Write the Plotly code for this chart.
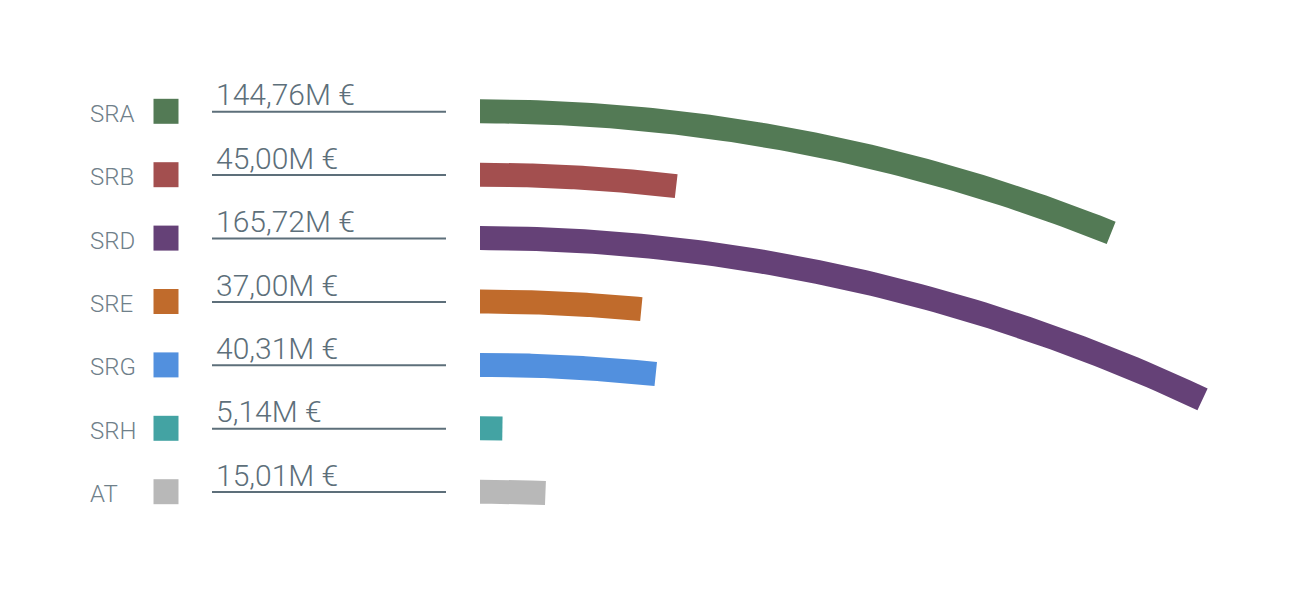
import numpy as np
import plotly.graph_objects as go

# ---- data ----
categories = ["SRA", "SRB", "SRD", "SRE", "SRG", "SRH", "AT"]
values = [144.76, 45.00, 165.72, 37.00, 40.31, 5.14, 15.01]
value_labels = ["144,76M €", "45,00M €", "165,72M €", "37,00M €", "40,31M €", "5,14M €", "15,01M €"]
colors = ["#537a55", "#a34f4f", "#654177", "#c06b2c", "#5290de", "#43a3a3", "#b8b8b8"]

# ---- layout constants (pixel-based axes) ----
W, H = 1293, 603
OFF = 8  # page body margin compensation
ROW0, ROW_STEP = 111.3, 63.4
BAR_X0 = 480.0
PX_PER_UNIT = 4.36
RADIUS = 1700.0
HALF = 12.0
TEXT_COLOR = "#5d6f7a"
LABEL_COLOR = "#6f808a"
FONT = "Roboto"

fig = go.Figure()

for i, (cat, v, col) in enumerate(zip(categories, values, colors)):
    yc = ROW0 + ROW_STEP * i
    cy = yc + RADIUS
    th_end = np.arcsin(min(v * PX_PER_UNIT / RADIUS, 1.0))
    th = np.linspace(0, th_end, 80)
    ro, ri = RADIUS + HALF, RADIUS - HALF
    xs = np.concatenate([BAR_X0 + ro * np.sin(th), (BAR_X0 + ri * np.sin(th))[::-1]])
    ys = np.concatenate([cy - ro * np.cos(th), (cy - ri * np.cos(th))[::-1]])
    fig.add_trace(go.Scatter(x=xs, y=ys, fill="toself", fillcolor=col, mode="lines",
                             line=dict(width=0, color=col), hoverinfo="skip", showlegend=False))

rows = [ROW0 + ROW_STEP * i for i in range(len(categories))]

# legend squares
fig.add_trace(go.Scatter(x=[166] * len(rows), y=rows, mode="markers",
                         marker=dict(symbol="square", size=25, color=colors, line=dict(width=0)),
                         hoverinfo="skip", showlegend=False))

for i, y in enumerate(rows):
    fig.add_shape(type="line", x0=212, x1=446, y0=y + 0.4, y1=y + 0.4,
                  line=dict(color=TEXT_COLOR, width=2), xref="x", yref="y")
    fig.add_annotation(x=88, y=y + 2.5, text=categories[i], showarrow=False,
                       xanchor="left", yanchor="middle",
                       font=dict(family=FONT, size=24, color=LABEL_COLOR, weight=300))
    fig.add_annotation(x=214, y=y - 16.5, text=value_labels[i], showarrow=False,
                       xanchor="left", yanchor="middle",
                       font=dict(family=FONT, size=30, color=TEXT_COLOR, weight=300))

fig.update_layout(
    width=W, height=H,
    margin=dict(l=0, r=0, t=0, b=0),
    paper_bgcolor="white", plot_bgcolor="white",
    xaxis=dict(range=[OFF, W + OFF], visible=False, fixedrange=True),
    yaxis=dict(range=[H + OFF, OFF], visible=False, fixedrange=True),
)

fig.write_html("out.html")
